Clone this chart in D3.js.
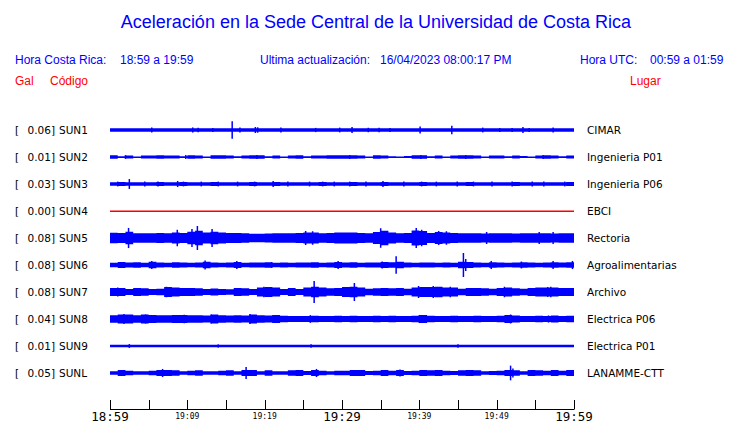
<!DOCTYPE html>
<html><head><meta charset="utf-8">
<script src="https://cdn.jsdelivr.net/npm/d3@7"></script>
<style>body{margin:0;background:#fff}svg{display:block}</style>
</head><body><svg id="c" width="740" height="423"></svg>
<script>
// ---------- data ----------
const stations = ["SUN1","SUN2","SUN3","SUN4","SUN5","SUN6","SUN7","SUN8","SUN9","SUNL"];
const peakGal = ["0.06","0.01","0.03","0.00","0.08","0.08","0.08","0.04","0.01","0.05"];
const places = ["CIMAR","Ingenieria P01","Ingenieria P06","EBCI","Rectoria","Agroalimentarias","Archivo","Electrica P06","Electrica P01","LANAMME-CTT"];
const traceColors = ["#0000ff","#0000ff","#0000ff","#ff0000","#0000ff","#0000ff","#0000ff","#0000ff","#0000ff","#0000ff"];
const tickMinutes = [0,5,10,15,20,25,30,35,40,45,50,55,60];
const tickLabels = {0:"18:59",10:"19:09",20:"19:19",30:"19:29",40:"19:39",50:"19:49",60:"19:59"};
const bigTicks = [0,30,60];

// per-minute envelope half-amplitude (gal) and isolated spikes [minute, gal]
const sun1Env = [.012,.012,.012,.012,.012,.012,.012,.012,.012,.012,.012,.012,.012,.012,.012,.012,.012,.012,.012,.012,.012,.012,.012,.012,.012,.012,.012,.012,.012,.012,.012,.012,.012,.012,.012,.012,.012,.012,.012,.012,.012,.012,.012,.012,.012,.012,.012,.012,.012,.012,.012,.012,.012,.012,.012,.012,.012,.012,.012,.012];
const sun1Spikes = [[5.4,.017],[10.7,.017],[11.4,.015],[13.3,.014],[15.8,.058],[16.8,.016],[18.8,.02],[19.1,.018],[22.1,.016],[26.6,.014],[29.7,.016],[31.3,.02],[33.4,.015],[34.8,.015],[36.2,.014],[40.1,.024],[44.2,.028],[48.2,.016],[50.4,.014],[52.0,.014],[53.4,.02],[54.2,.014],[57.3,.016]];
const sun2Env = [.011,.005,.01,.004,.01,.01,.011,.01,.01,.005,.011,.01,.004,.011,.011,.01,.005,.01,.011,.011,.005,.01,.004,.01,.011,.005,.01,.01,.011,.011,.011,.011,.01,.004,.011,.01,.005,.004,.006,.011,.011,.005,.01,.004,.01,.011,.011,.01,.004,.01,.01,.005,.01,.006,.004,.01,.011,.01,.005,.01];
const sun2Spikes = [[2.0,.013],[9.8,.013],[19.0,.014],[31.0,.013],[40.2,.014],[46.0,.013],[56.0,.013]];
const sun3Env = [.012,.013,.012,.012,.012,.012,.013,.012,.012,.013,.012,.012,.012,.013,.012,.012,.012,.012,.013,.012,.012,.013,.012,.012,.012,.012,.012,.013,.012,.012,.012,.013,.012,.012,.012,.013,.012,.012,.012,.012,.013,.012,.012,.012,.012,.012,.013,.012,.012,.012,.012,.012,.013,.012,.012,.012,.012,.012,.012,.013];
const sun3Spikes = [[1.0,.016],[2.5,.033],[4.5,.016],[6.2,.016],[8.75,.02],[9.5,.016],[11.8,.016],[14.0,.016],[16.5,.016],[18.7,.016],[21.1,.02],[23.0,.016],[25.8,.016],[27.5,.016],[29.0,.016],[31.0,.016],[33.1,.016],[35.3,.02],[38.0,.016],[40.3,.016],[42.2,.016],[44.9,.016],[47.0,.016],[49.4,.016],[52.0,.016],[54.6,.016],[56.1,.016],[58.8,.016]];
const sun4Env = [0,0,0,0,0,0,0,0,0,0,0,0,0,0,0,0,0,0,0,0,0,0,0,0,0,0,0,0,0,0,0,0,0,0,0,0,0,0,0,0,0,0,0,0,0,0,0,0,0,0,0,0,0,0,0,0,0,0,0,0];
const sun4Spikes = [];
const sun5Env = [.035,.034,.042,.032,.032,.032,.034,.032,.037,.034,.042,.048,.037,.042,.037,.034,.033,.032,.029,.029,.03,.031,.032,.032,.033,.037,.037,.032,.034,.037,.037,.037,.034,.032,.04,.048,.037,.032,.034,.05,.046,.034,.04,.037,.034,.032,.032,.032,.03,.032,.032,.032,.03,.032,.032,.032,.032,.03,.032,.032];
const sun5Spikes = [[2.4,.067],[8.7,.055],[10.6,.06],[11.3,.08],[13.2,.06],[25.3,.047],[26.2,.045],[35.0,.065],[39.6,.066],[40.3,.055],[42.5,.047],[43.5,.045],[48.7,.04],[55.5,.04],[57.3,.04]];
const sun6Env = [.015,.02,.016,.018,.015,.022,.016,.015,.018,.016,.015,.017,.022,.016,.015,.016,.02,.015,.016,.017,.018,.015,.016,.015,.017,.016,.018,.015,.016,.02,.016,.018,.015,.016,.017,.02,.018,.022,.016,.015,.017,.016,.015,.016,.015,.022,.02,.016,.015,.018,.016,.015,.017,.019,.016,.015,.016,.019,.016,.018];
const sun6Spikes = [[1.3,.02],[5.4,.027],[12.3,.03],[16.4,.027],[20.9,.02],[29.5,.027],[35.2,.023],[37.0,.058],[45.7,.08],[46.0,.04],[49.3,.027],[53.2,.023],[57.3,.027],[59.8,.027]];
const sun7Env = [.027,.027,.02,.027,.025,.02,.022,.033,.03,.027,.027,.025,.02,.024,.02,.019,.027,.025,.02,.03,.033,.03,.02,.026,.02,.03,.035,.03,.025,.027,.033,.035,.03,.022,.025,.027,.025,.027,.022,.03,.033,.033,.035,.03,.03,.022,.027,.027,.025,.022,.027,.03,.025,.022,.027,.03,.03,.03,.027,.027];
const sun7Spikes = [[1.0,.03],[7.3,.035],[19.9,.035],[26.4,.073],[31.6,.06],[39.9,.04],[41.8,.04],[44.0,.035],[51.0,.035],[56.6,.033],[57.0,.035]];
const sun8Env = [.025,.03,.03,.025,.03,.027,.025,.025,.027,.027,.025,.025,.024,.03,.025,.024,.025,.024,.03,.025,.024,.027,.022,.02,.02,.02,.022,.02,.02,.022,.02,.022,.02,.02,.021,.02,.022,.02,.02,.022,.027,.022,.02,.02,.021,.02,.02,.022,.02,.02,.022,.027,.024,.02,.02,.022,.02,.024,.02,.021];
const sun8Spikes = [[1.8,.033],[4.6,.03],[9.6,.028],[13.1,.03],[18.1,.033],[21.1,.027],[25.9,.026],[40.0,.027],[51.8,.03],[56.7,.024]];
const sun9Env = [.009,.009,.009,.009,.009,.009,.009,.009,.009,.009,.009,.009,.009,.009,.009,.009,.009,.009,.009,.009,.009,.009,.009,.009,.009,.009,.009,.009,.009,.009,.009,.009,.009,.009,.009,.009,.009,.009,.009,.009,.009,.009,.009,.009,.009,.009,.009,.009,.009,.009,.009,.009,.009,.009,.009,.009,.009,.009,.009,.009];
const sun9Spikes = [[2.5,.013],[14.0,.011],[26.0,.012],[45.0,.011]];
const sunLEnv = [.012,.02,.015,.012,.011,.015,.02,.02,.018,.012,.015,.018,.012,.011,.015,.018,.012,.02,.02,.012,.018,.011,.012,.018,.02,.013,.02,.015,.012,.015,.015,.02,.02,.013,.015,.02,.015,.02,.013,.015,.02,.018,.02,.015,.013,.018,.02,.018,.012,.013,.015,.02,.018,.012,.02,.018,.015,.02,.015,.02];
const sunLSpikes = [[6.8,.027],[17.6,.04],[26.7,.027],[37.5,.023],[51.8,.049],[52.1,.03]];

const envelopes = [sun1Env,sun2Env,sun3Env,sun4Env,sun5Env,sun6Env,sun7Env,sun8Env,sun9Env,sunLEnv];
const spikes = [sun1Spikes,sun2Spikes,sun3Spikes,sun4Spikes,sun5Spikes,sun6Spikes,sun7Spikes,sun8Spikes,sun9Spikes,sunLSpikes];

// ---------- drawing ----------
const svg = d3.select("#c");
const BLUE = "#0000ff", RED = "#ff0000";
const sans = "'Liberation Sans', Arial, sans-serif";
const dv = "'DejaVu Sans', sans-serif";

svg.append("text").attr("x", 376).attr("y", 28).attr("text-anchor","middle")
  .attr("font-family", sans).attr("font-size", 18).attr("fill", BLUE)
  .text("Aceleración en la Sede Central de la Universidad de Costa Rica");

const hdr = [["Hora Costa Rica:",15],["18:59 a 19:59",120],["Ultima actualización:",260],["16/04/2023 08:00:17 PM",380],["Hora UTC:",580],["00:59 a 01:59",650]];
svg.selectAll("text.h").data(hdr).join("text").attr("class","h")
  .attr("x", d=>d[1]).attr("y", 64).attr("font-family", sans).attr("font-size", 12).attr("fill", BLUE).text(d=>d[0]);
const hdr2 = [["Gal",15],["Código",50],["Lugar",630]];
svg.selectAll("text.h2").data(hdr2).join("text").attr("class","h2")
  .attr("x", d=>d[1]).attr("y", 85).attr("font-family", sans).attr("font-size", 12).attr("fill", RED).text(d=>d[0]);

const x = d3.scaleLinear().domain([0,60]).range([110,574]);
const row = d3.scalePoint().domain(stations).range([130,373]);
const amp = d3.scaleLinear().domain([0,0.09]).range([0,13.5]);

stations.forEach((s,i)=>{
  const cy = row(s);
  const g = svg.append("g");
  g.append("text").attr("x",15).attr("y",cy+4).attr("font-family",dv).attr("font-size",10.5).attr("fill","#000").text("[");
  g.append("text").attr("x",55).attr("y",cy+4).attr("text-anchor","end").attr("font-family",dv).attr("font-size",10.5).attr("fill","#000").text(peakGal[i]+"]");
  g.append("text").attr("x",59).attr("y",cy+4).attr("font-family",dv).attr("font-size",10.5).attr("fill","#000").text(s);
  g.append("text").attr("x",587).attr("y",cy+4).attr("font-family",dv).attr("font-size",10.5).attr("fill","#000").text(places[i]);

  const env = envelopes[i];
  const pts = env.map((v,k)=>[k,v]).concat([[60, env[env.length-1]]]);
  const area = d3.area().curve(d3.curveStepAfter)
    .x(d=>x(d[0])).y0(d=>cy + Math.max(amp(d[1]),0.5)).y1(d=>cy - Math.max(amp(d[1]),0.5));
  const col = traceColors[i];
  g.append("path").attr("d", area(pts)).attr("fill", col);
  g.append("line").attr("x1",x(0)).attr("x2",x(60)).attr("y1",cy+0.5).attr("y2",cy+0.5)
    .attr("stroke",col).attr("stroke-width",1);
  g.selectAll("line.sp").data(spikes[i]).join("line").attr("class","sp")
    .attr("x1",d=>x(d[0])).attr("x2",d=>x(d[0]))
    .attr("y1",d=>cy-amp(d[1])).attr("y2",d=>cy+amp(d[1]))
    .attr("stroke",col).attr("stroke-width",1.5);
});

// time axis
const axY = 409;
svg.append("line").attr("x1",x(0)).attr("x2",x(60)).attr("y1",axY+0.5).attr("y2",axY+0.5).attr("stroke","#000");
svg.selectAll("line.tk").data(tickMinutes).join("line").attr("class","tk")
  .attr("x1",d=>Math.round(x(d))+0.5).attr("x2",d=>Math.round(x(d))+0.5).attr("y1",axY-9).attr("y2",axY+0.5).attr("stroke","#000");
svg.selectAll("text.tl").data(Object.keys(tickLabels).map(Number)).join("text").attr("class","tl")
  .attr("x",d=>x(d)).attr("y",d=>bigTicks.includes(d)?421:419).attr("text-anchor","middle")
  .attr("font-family","'DejaVu Sans Mono', monospace").attr("font-size",d=>bigTicks.includes(d)?12.5:8)
  .attr("fill","#000").text(d=>tickLabels[d]);
</script></body></html>
